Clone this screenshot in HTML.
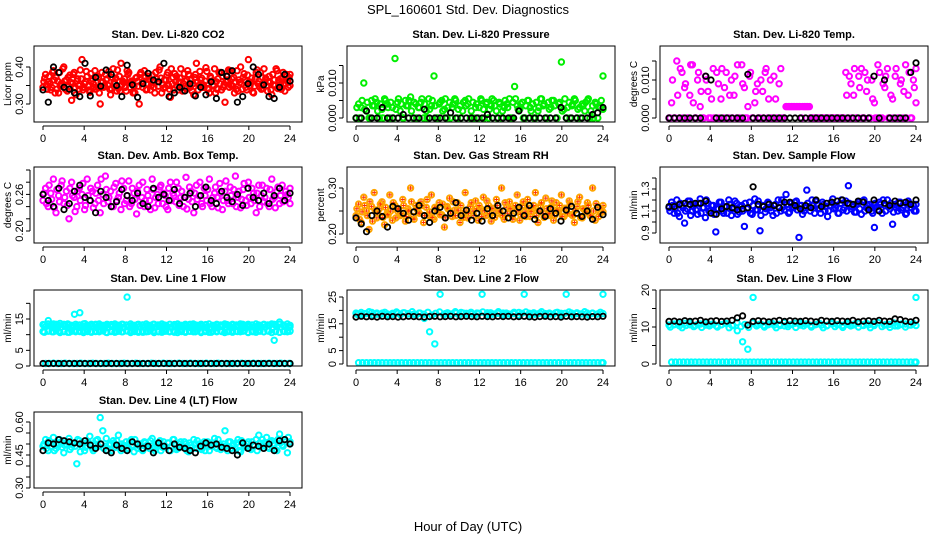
<!DOCTYPE html>
<html><head><meta charset="utf-8"><style>
body{margin:0;background:#fff;width:936px;height:540px;overflow:hidden}
svg{display:block;font-family:"Liberation Sans",sans-serif}
</style></head><body>
<svg id="chart" width="936" height="540" viewBox="0 0 936 540">
<text x="468" y="14" text-anchor="middle" font-size="13">SPL_160601  Std. Dev. Diagnostics</text>
<text x="468" y="531" text-anchor="middle" font-size="13">Hour of Day (UTC)</text>
</svg>
<script>
// ---- data (values per panel, sampled across 0-24 h) ----
const hourTicks=[0,4,8,12,16,20,24];
const co2=[345,380,360,338,390,372,330,355,400,365,348,310,385,362,340,420,355,375,332,368,390,345,300,360,380,350,325,395,370,342,410,358,335,385,362,348,372,300,355,390,340,365,378,330,360,400,352,345,385,318,372,360,338,395,355,342,380,365,325,410,350,370,345,388,330,362,395,340,355,375,305,365,390,348,360,335,400,372,345,420,358,330,385,362,340,395,350,375,325,365,390,345,370,335,360,380];
const co2B=[360,352,375,345,365,340,385,350,362,335,378,355,345,368,392,338,360,348,382,355,340,372,358,345,365,388,342,360,335,375,352,368,390,345,355,330,362,380,345,372,355,338,360,385,348,370,342,365,350,395,338,375,360,345,382,365,350,335,372,358,388,345,362,340,375,352,330,368,385,345,360,392,350,372,340,365,355,382,338,360,370,348,392,345,372,360,335,358,380,350,342,368,385,355,345,362];
const co2C=[370,340,355,385,330,362,348,395,340,372,358,380,325,350,368,345,388,338,362,345,375,330,385,350,368,340,372,355,392,335,362,345,380,358,330,370,348,385,362,338,375,350,345,368,392,330,365,378,340,355,382,348,370,335,362,390,345,355,380,338,365,352,398,342,370,348,360,385,338,352,375,345,368,330,390,358,340,365,378,350,332,368,355,385,342,370,360,338,352,395,365,340,355,380,372,350];
const co2Black=[338,305,400,385,345,340,330,320,410,322,372,348,392,380,350,320,405,352,318,355,383,365,360,410,320,330,345,335,355,322,345,325,360,315,385,375,390,305,320,355,400,380,352,320,315,345,380,362];
const pressure=[0,40,30,100,20,0,50,35,45,0,25,55,40,0,30,170,45,20,0,50,35,60,0,40,30,45,0,20,55,35,120,0,40,50,25,0,45,30,55,0,35,20,50,40,0,45,30,0,55,25,40,0,35,50,20,45,0,30,40,55,0,90,35,25,45,0,50,30,40,0,20,55,35,0,45,30,50,0,40,160,25,0,45,35,55,0,30,40,20,50,0,35,45,0,30,120];
const pressureB=[30,0,50,25,45,0,35,55,20,40,0,50,30,45,0,25,55,40,0,35,50,20,45,0,30,55,40,0,25,50,35,0,45,20,55,30,0,40,50,25,0,45,35,55,20,0,40,30,50,0,45,25,55,35,0,40,20,50,30,0,45,55,25,40,0,35,50,20,0,45,30,55,40,0,25,50,35,0,45,20,55,30,0,40,50,25,0,35,45,55,20,0,40,30,50,25];
const pressureBlack=[0,0,20,0,0,30,0,0,0,10,0,0,0,25,0,0,0,0,15,0,0,0,0,0,0,10,0,0,0,0,0,20,0,0,0,0,0,0,0,30,0,0,0,0,0,10,15,30];
const liTemp=[0,40,0,150,0,120,80,0,60,140,0,100,30,0,110,70,0,130,0,90,50,0,120,0,100,60,0,0,140,80,0,110,0,40,90,0,70,120,0,100,0,50,0,130,0,30,30,30,30,30,30,0,30,30,30,0,0,0,0,0,0,0,0,0,0,0,0,0,120,0,90,60,0,110,130,0,70,0,100,40,0,120,0,80,130,0,50,110,0,90,0,140,60,0,100,40];
const liTempB=[0,100,0,60,130,0,90,0,140,40,0,120,70,0,100,0,50,0,120,0,130,80,0,60,0,110,140,0,90,0,30,120,0,70,0,100,0,130,50,0,110,0,90,0,0,30,30,30,30,30,30,30,30,30,0,0,0,0,0,0,0,0,0,0,0,0,0,0,60,110,0,130,0,80,0,120,100,0,50,0,140,0,90,110,0,60,0,130,0,100,70,0,120,0,80,130];
const liTempBlack=[0,0,0,0,0,0,0,110,100,0,0,0,0,0,0,115,0,0,0,0,0,0,0,0,0,0,0,0,0,0,0,0,0,0,0,0,0,0,0,110,0,100,0,0,0,0,120,145];
const boxTemp=[250,270,240,262,285,230,258,275,245,265,220,280,255,240,270,260,235,285,250,265,245,275,230,260,290,248,265,240,278,255,235,270,250,282,245,262,228,275,255,240,268,250,285,238,260,272,245,258,235,280,262,248,270,255,240,288,252,265,230,275,258,245,270,250,285,240,262,255,278,235,265,250,272,245,290,255,238,268,250,280,245,262,230,275,258,248,270,240,285,255,265,245,275,250,260,245];
const boxTempB=[262,245,275,252,238,268,248,282,255,242,270,258,232,265,250,278,242,258,270,238,262,250,285,245,268,255,240,272,250,262,282,245,258,240,270,252,265,242,280,250,258,235,268,255,245,275,262,240,270,250,258,280,242,265,255,236,272,248,262,252,280,240,258,268,245,255,272,238,262,250,282,245,258,268,240,265,252,278,242,255,270,250,262,240,275,255,245,268,252,238,272,258,248,265,255,270];
const boxTempBlack=[260,250,240,270,235,245,265,275,255,250,230,265,255,240,248,268,258,250,262,245,240,270,255,260,250,268,245,255,262,240,258,272,250,245,265,255,248,260,242,270,255,250,262,245,258,270,250,262];
const rh=[240,265,225,280,250,210,260,290,235,255,270,220,245,285,230,262,250,240,275,228,255,300,238,262,248,270,225,258,240,285,232,255,268,242,215,260,278,238,252,268,225,245,290,235,260,250,272,230,255,280,240,262,228,250,275,245,300,232,258,270,240,255,285,230,262,248,275,238,255,290,225,262,245,278,240,258,230,268,250,285,238,255,272,242,225,260,280,235,252,268,240,300,230,258,245,262];
const rhB=[255,232,248,262,240,270,228,252,245,265,236,258,242,250,268,235,255,244,262,238,250,270,232,255,245,262,240,275,248,236,258,250,242,265,235,255,248,270,240,252,262,236,250,245,268,240,255,262,238,250,272,244,256,236,262,250,240,268,245,255,232,262,250,242,270,238,256,248,262,240,250,268,236,255,245,272,240,252,262,238,256,245,265,240,252,270,236,255,248,262,240,250,266,238,255,248];
const rhBlack=[235,222,205,240,250,238,215,260,255,245,230,248,262,240,225,250,258,235,245,268,240,252,230,245,228,255,240,262,250,235,245,258,240,262,232,250,238,255,245,228,252,260,245,238,250,232,258,242];
const flow=[113,118,108,120,105,115,99,112,119,110,116,107,121,113,104,117,110,115,91,112,118,108,114,120,106,113,117,109,115,96,112,118,107,121,111,92,115,109,118,113,106,116,120,110,114,125,108,117,113,119,86,115,110,129,114,120,108,116,112,118,110,105,115,121,113,108,117,111,119,133,112,115,109,118,107,120,113,116,110,95,114,118,108,115,120,112,98,116,110,118,113,107,119,113,115,110];
const flowB=[110,115,112,108,117,113,110,119,106,114,111,117,108,113,120,110,115,107,112,118,110,114,108,116,112,119,107,114,110,117,113,108,115,111,119,106,114,112,117,110,115,108,113,120,111,116,109,114,118,111,115,107,113,117,110,115,119,112,108,116,114,110,118,112,115,108,120,113,110,117,114,109,116,112,119,110,115,113,108,117,111,116,120,110,114,117,109,113,118,111,115,108,117,113,110,116];
const flowBlack=[114,114,116,117,116,117,117,119,108,107,112,114,113,111,112,113,132,116,114,116,115,113,118,118,115,112,115,113,120,114,117,118,119,120,117,116,119,118,111,120,110,117,115,119,117,118,116,120];
const line1Upper=[132,145,134,130,133,131,165,170,135,131,133,130,129,132,131,133,220,130,132,131,130,133,129,131,250,132,130,130,133,131,129,132,255,131,130,132,131,130,133,129,260,131,132,130,133,140,128,250];
const line1Mid=[125,128,122,126,124,127,123,125,128,122,126,124,127,123,125,128,122,126,124,127,123,125,128,122,126,124,127,123,125,128,122,126,124,127,123,125,128,122,126,124,127,123,125,128,122,126,124,127,123,125,128,122,126,124,127,123,125,128,122,126,124,127,123,125];
const line1Upper2=[131,134,130,133,136,131,134,130,133,131,134,130,133,131,134,130,133,131,134,130,133,131,134,130,133,131,134,130,133,131,134,130,133,131,134,130,133,131,134,130,133,131,134,130,133,131,134,130,133,131,134,130,133,131,134,130,133,131,134,130,133,131,134,130];
const line1Lower=[110,112,109,111,110,108,112,110,111,109,110,112,108,111,110,109,112,110,111,108,110,112,109,111,110,108,112,110,111,109,110,112,108,111,110,109,112,110,111,108,110,112,109,111,82,108,110,111];
const line1Lower2=[108,111,109,112,107,110,108,111,109,112,107,110,108,111,109,112,107,110,108,111,109,112,107,110,108,111,109,112,107,110,108,111,109,112,107,110,108,111,109,112,107,110,108,111,109,112,107,110,108,111,109,112,107,110,108,111,109,112,107,110,108,111,109,112];
const line1Zero=[8,8,9,8,8,9,8,8,8,9,8,8,9,8,8,8,9,8,8,8,9,8,8,9,8,8,8,9,8,8,9,8,8,8,9,8,8,9,8,8,8,9,8,8,9,8,8,8,8,8,9,8,8,9,8,8,8,9,8,8,9,8,8,8];
const line1Black=[8,8,8,8,8,8,8,8,8,8,8,8,8,8,8,8,8,8,8,8,8,8,8,8,8,8,8,8,8,8,8,8,8,8,8,8,8,8,8,8,8,8,8,8,8,8,8,8];
const line2Cyan=[190,185,188,192,186,190,187,185,189,191,188,186,190,170,120,75,260,188,186,190,192,189,187,190,260,191,186,189,190,187,188,192,260,189,186,190,188,187,191,189,260,190,188,187,190,189,187,260];
const line2Cyan2=[185,192,188,195,183,190,186,193,182,189,194,184,191,187,195,183,190,186,193,182,189,194,184,191,187,195,183,190,186,193,182,189,194,184,191,187,195,183,190,186,193,182,189,194,184,191,187,195,183,190,186,193,182,189,194,184,191,187,195,183,190,186,193,188];
const line2Zero=[5,5,5,5,5,5,5,5,5,5,5,5,5,5,5,5,5,5,5,5,5,5,5,5,5,5,5,5,5,5,5,5,5,5,5,5,5,5,5,5,5,5,5,5,5,5,5,5,5,5,5,5,5,5,5,5,5,5,5,5,5,5,5,5];
const line2Black=[175,178,176,177,175,178,176,177,175,176,178,177,176,175,177,178,176,177,178,176,177,178,177,176,178,177,176,178,177,178,176,177,178,176,175,177,178,176,177,175,178,176,177,176,175,177,176,178];
const line3Cyan=[105,108,103,110,106,104,108,105,107,103,106,109,104,90,60,40,180,106,104,108,105,107,103,106,110,105,108,104,107,105,103,108,106,104,107,105,110,104,106,108,200,105,107,103,106,108,105,180];
const line3Cyan2=[100,106,110,98,104,112,101,107,99,111,103,108,100,106,110,98,104,112,101,107,99,111,103,108,100,106,110,98,104,112,101,107,99,111,103,108,100,106,110,98,104,112,101,107,99,111,103,108,100,106,110,98,104,112,101,107,99,111,103,108,100,106,110,104];
const line3Zero=[5,5,5,5,5,5,5,5,5,5,5,5,5,5,5,5,5,5,5,5,5,5,5,5,5,5,5,5,5,5,5,5,5,5,5,5,5,5,5,5,5,5,5,5,5,5,5,5,5,5,5,5,5,5,5,5,5,5,5,5,5,5,5,5];
const line3Black=[115,116,114,117,115,116,118,114,116,117,115,116,118,125,130,105,115,117,116,114,116,118,115,117,116,115,117,116,114,118,116,115,117,116,115,118,114,116,117,115,118,116,115,122,120,116,114,118];
const line4=[490,520,470,505,530,480,495,510,460,500,525,485,300,410,515,490,470,505,535,480,500,520,620,560,490,470,500,515,485,540,470,495,510,480,520,465,500,490,475,510,495,480,525,470,500,515,485,490,505,470,520,495,480,510,485,500,465,495,520,480,500,475,510,490,470,505,525,480,500,490,560,470,510,495,480,520,465,500,485,510,475,495,520,540,490,505,530,480,515,500,470,545,495,520,460,510];
const line4B=[500,480,515,490,470,505,520,485,495,510,475,500,490,520,465,505,485,510,495,470,515,490,500,480,525,495,470,505,515,485,500,490,475,510,495,520,480,500,470,505,490,515,480,500,495,470,510,485,505,490,520,475,500,490,510,470,505,485,500,515,480,495,470,510,490,505,485,520,475,500,490,510,480,495,505,470,515,490,500,480,510,495,470,505,520,490,485,510,500,475,520,505,490,510,530,500];
const line4Black=[470,505,500,520,515,510,505,500,515,495,480,500,470,460,495,480,470,510,500,480,490,460,505,490,470,500,485,480,470,460,490,505,495,500,485,480,470,450,505,480,495,490,480,500,470,515,520,500];
</script>
<script>
const svg=document.getElementById('chart');
const NS='http://www.w3.org/2000/svg';
function mk(tag,attrs,parent){const e=document.createElementNS(NS,tag);for(const k in attrs)e.setAttribute(k,attrs[k]);(parent||svg).appendChild(e);return e;}
const BW=268,BH=76;
const panels=[
 {name:'co2',title:'Stan. Dev. Li-820 CO2',ylab:'Licor ppm',bx:34,by:46,v0:0.30,p0:104,v1:0.40,p1:67,scale:0.001,ticks:[0.30,0.35,0.40],labs:['0.30','','0.40'],series:[[co2,'#ff0000'],[co2B,'#ff0000'],[co2C,'#ff0000'],[co2Black,'#000']]},
 {name:'pressure',title:'Stan. Dev. Li-820 Pressure',ylab:'kPa',bx:347,by:46,v0:0,p0:118,v1:0.010,p1:83,scale:0.0001,ticks:[0,0.005,0.010,0.015],labs:['0.000','','0.010',''],series:[[pressure,'#00ee00'],[pressureB,'#00ee00'],[pressureBlack,'#000']]},
 {name:'li-temp',title:'Stan. Dev. Li-820 Temp.',ylab:'degrees C',bx:660,by:46,v0:0,p0:118,v1:0.010,p1:80,scale:0.0001,ticks:[0,0.005,0.010,0.015],labs:['0.000','','0.010',''],series:[[liTemp,'#ff00ff'],[liTempB,'#ff00ff'],[liTempBlack,'#000']]},
 {name:'box-temp',title:'Stan. Dev. Amb. Box Temp.',ylab:'degrees C',bx:34,by:167,v0:0.20,p0:231,v1:0.30,p1:170,scale:0.001,ticks:[0.20,0.22,0.24,0.26,0.28,0.30],labs:['0.20','','','0.26','',''],series:[[boxTemp,'#ff00ff'],[boxTempB,'#ff00ff'],[boxTempBlack,'#000']]},
 {name:'rh',title:'Stan. Dev. Gas Stream RH',ylab:'percent',bx:347,by:167,v0:0.20,p0:234,v1:0.30,p1:188,scale:0.001,ticks:[0.20,0.25,0.30],labs:['0.20','','0.30'],series:[[rh,'#ffa500'],[rhB,'#ffa500'],[rhBlack,'#000']],cross:true},
 {name:'sample-flow',title:'Stan. Dev. Sample Flow',ylab:'ml/min',bx:660,by:167,v0:0.9,p0:233,v1:1.3,p1:189,scale:0.01,ticks:[0.9,1.0,1.1,1.2,1.3,1.4],labs:['0.9','','1.1','','1.3',''],series:[[flow,'#0000ff'],[flowB,'#0000ff'],[flowBlack,'#000']]},
 {name:'line1-flow',title:'Stan. Dev. Line 1 Flow',ylab:'ml/min',bx:34,by:290,v0:0,p0:366,v1:15,p1:319,scale:0.1,ticks:[0,5,10,15,20],labs:['0','5','','15',''],series:[[line1Upper,'#00ffff'],[line1Upper2,'#00ffff'],[line1Mid,'#00ffff'],[line1Lower,'#00ffff'],[line1Lower2,'#00ffff'],[line1Zero,'#00ffff'],[line1Black,'#000']]},
 {name:'line2-flow',title:'Stan. Dev. Line 2 Flow',ylab:'ml/min',bx:347,by:290,v0:0,p0:364,v1:25,p1:297,scale:0.1,ticks:[0,5,10,15,20,25],labs:['0','5','','15','','25'],series:[[line2Cyan,'#00ffff'],[line2Cyan2,'#00ffff'],[line2Zero,'#00ffff'],[line2Black,'#000']]},
 {name:'line3-flow',title:'Stan. Dev. Line 3 Flow',ylab:'ml/min',bx:660,by:290,v0:0,p0:364,v1:20,p1:290,scale:0.1,ticks:[0,5,10,15,20],labs:['0','','10','','20'],series:[[line3Cyan,'#00ffff'],[line3Cyan2,'#00ffff'],[line3Zero,'#00ffff'],[line3Black,'#000']]},
 {name:'line4-flow',title:'Stan. Dev. Line 4 (LT) Flow',ylab:'ml/min',bx:34,by:412,v0:0.30,p0:488,v1:0.60,p1:422,scale:0.001,ticks:[0.30,0.35,0.40,0.45,0.50,0.55,0.60],labs:['0.30','','','0.45','','','0.60'],series:[[line4,'#00ffff'],[line4B,'#00ffff'],[line4Black,'#000']]}
];
panels.forEach(P=>{
 const g=mk('g',{});
 
 
 const xs=h=>P.bx+9+h*(247/24);
 const ys=v=>P.p0+(v-P.v0)*(P.p1-P.p0)/(P.v1-P.v0);
 const t=mk('text',{x:P.bx+BW/2,y:P.by-8,'text-anchor':'middle','font-size':'11','font-weight':'bold'},g);
 t.textContent=P.title;
 
 
 P.series.forEach(([arr,col],si)=>{
  const sg=mk('g',{},g);
  
  
  const n=arr.length;
  const off=(col==='#000')?0:(si%3)*(24/(n-1))/3;
  arr.forEach((v,i)=>{
   let h=i*24/(n-1)+off; if(h>24)h=24;
   const cx=xs(h), cy=ys(v*P.scale);
   if(cy<P.by+1||cy>P.by+BH-1)return;
   const c=mk('circle',{cx:cx.toFixed(1),cy:cy.toFixed(1),r:2.7,fill:'none',stroke:col,'stroke-width':(col==='#000'?1.8:2)},sg);
   
   
   if(P.cross&&col!=='#000'){
    const p=mk('path',{d:`M${cx-2} ${cy}h4M${cx} ${cy-2}v4`,stroke:'#ff3000','stroke-width':1},sg);
    
    
   }
  });
 });
 const box=mk('rect',{x:P.bx,y:P.by,width:BW,height:BH,fill:'none',stroke:'#000','stroke-width':1},g);
 
 
 const xa=mk('g',{},g);
 
 
 mk('line',{x1:xs(0),x2:xs(24),y1:P.by+BH+4,y2:P.by+BH+4,stroke:'#000'},xa);
 hourTicks.forEach(h=>{
  mk('line',{x1:xs(h),x2:xs(h),y1:P.by+BH+4,y2:P.by+BH+8,stroke:'#000'},xa);
  const tl=mk('text',{x:xs(h),y:P.by+BH+20,'text-anchor':'middle','font-size':'11'},xa);
  tl.textContent=h;
  
  
 });
 const ya=mk('g',{},g);
 
 
 const ax=P.bx-4;
 mk('line',{x1:ax,x2:ax,y1:ys(P.ticks[0]),y2:ys(P.ticks[P.ticks.length-1]),stroke:'#000'},ya);
 P.ticks.forEach((v,i)=>{
  const y=ys(v);
  mk('line',{x1:ax-4,x2:ax,y1:y,y2:y,stroke:'#000'},ya);
  if(P.labs[i]){
   const tl=mk('text',{x:ax-7,y:y,'text-anchor':'middle','font-size':'11',transform:`rotate(-90 ${ax-7} ${y})`},ya);
   tl.textContent=P.labs[i];
   
   
  }
 });
 const yl=mk('text',{x:P.bx-23,y:P.by+BH/2,'text-anchor':'middle','font-size':'10',transform:`rotate(-90 ${P.bx-23} ${P.by+BH/2})`},ya);
 yl.textContent=P.ylab;
 
 
});
</script>
</body></html>
